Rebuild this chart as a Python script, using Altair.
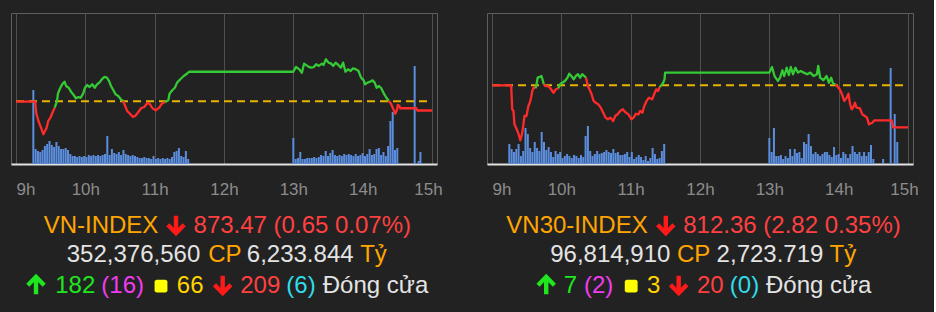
import altair as alt
import pandas as pd

# ---------------- data ----------------
# minutes after 09:00 and index level
VNI_T = [0, 16.6, 17.5, 19.4, 22.2, 23.7, 25.1, 26.5, 27.9, 29.8, 31.5, 33.5, 35.5, 36.3, 37.8, 40.0,
         42.0, 43.4, 45.6, 47.6, 49.9, 51.8, 54.1, 56.0, 58.1, 59.7, 61.7, 63.6, 65.9, 68.2, 70.1, 72.1,
         74.4, 76.6, 78.6, 80.5, 82.2, 84.3, 86.2, 88.5, 90.7, 92.7, 94.1, 96.3, 98.6, 101.2, 103.1,
         105.4, 108.2, 111.0, 113.8, 116.0, 118.1, 120.9, 124.0, 126.2, 129.0, 131.8, 132.9, 135.2,
         137.5, 139.4, 142.2, 145.1, 147.9, 149.8,
         240.0, 242.3, 245.1, 247.4, 249.3, 252.1, 255.0, 257.8, 259.7, 262.0, 264.8, 266.2, 268.2,
         270.4, 272.7, 274.6, 276.6, 278.9, 281.2, 283.1, 285.1, 287.3, 289.6, 291.6, 294.3, 296.4,
         298.6, 300.9, 302.0, 304.2, 306.5, 308.5, 310.4, 312.1, 314.1, 316.1, 318.4, 320.5, 322.6,
         324.5, 326.2, 328.2, 329.6, 330.4, 331.9, 332.4, 346.5, 347.1, 360]
VNI_V = [874.10, 874.10, 873.31, 872.73, 872.14, 871.79, 872.02, 872.25, 872.73, 872.96, 873.31,
         873.67, 874.14, 874.66, 874.97, 875.32, 875.51, 875.20, 875.08, 874.80, 874.57, 874.33,
         874.42, 874.37, 874.66, 875.08, 875.27, 875.13, 875.32, 875.08, 875.32, 875.44, 875.68,
         875.84, 875.79, 875.56, 875.20, 874.90, 874.61, 874.49, 874.26, 874.14, 873.86, 873.43,
         873.24, 873.01, 873.08, 873.31, 873.63, 873.72, 874.02, 873.91, 873.63, 873.48, 873.67,
         873.95, 874.07, 874.19, 874.66, 874.90, 875.08, 875.44, 875.68, 875.91, 876.07, 876.21,
         876.21, 876.55, 876.38, 876.14, 876.78, 876.62, 876.50, 876.54, 876.74, 876.62, 876.78,
         876.69, 877.09, 876.85, 876.78, 876.62, 876.85, 876.69, 876.50, 876.85, 876.21, 876.38,
         876.26, 876.45, 876.38, 876.26, 875.79, 875.60, 875.32, 875.44, 875.51, 875.60, 875.44,
         875.08, 875.20, 875.04, 874.66, 874.37, 874.14, 873.95, 873.63, 873.24, 873.48, 873.86,
         873.79, 873.63, 873.63, 873.47, 873.47]

VN30_T = [0, 16.6, 17.5, 18.6, 19.4, 21.4, 23.1, 24.5, 25.9, 27.0, 28.1, 29.8, 31.5, 32.7, 33.8,
          34.9, 36.3, 37.8, 38.6, 39.5, 41.4, 42.8, 43.9, 44.8, 46.2, 48.4, 50.5, 53.2, 55.2, 57.5,
          58.9, 60.8, 63.1, 65.3, 66.8, 68.7, 70.7, 72.4, 74.4, 76.3, 78.0, 80.0, 81.4, 82.8, 84.3,
          86.2, 87.9, 89.8, 91.9, 94.1, 96.3, 98.3, 100.3, 102.5, 104.8, 106.7, 109.0, 111.0, 113.2,
          115.2, 118.1, 120.6, 122.5, 124.5, 126.8, 128.2, 130.1, 131.8, 133.8, 135.8, 138.6, 140.3,
          142.2, 143.7, 145.1, 146.5, 147.9, 149.3, 149.8,
          240.0, 242.3, 244.5, 247.4, 249.3, 251.3, 252.9, 255.0, 256.9, 258.6, 260.5, 262.6, 264.8,
          267.0, 269.8, 272.7, 275.5, 278.3, 281.2, 282.3, 284.0, 286.7, 289.6, 291.6, 293.5, 295.2,
          297.2, 298.6, 300.9, 302.8, 304.8, 307.0, 308.5, 309.9, 311.3, 312.7, 314.1, 315.5, 318.3,
          320.5, 322.6, 324.5, 326.2, 329.0, 331.0, 345.9, 347.1, 360]
VN30_V = [815.17, 815.17, 813.57, 813.46, 812.56, 812.23, 811.89, 811.49, 811.89, 812.45,
          813.12, 813.12, 813.79, 814.01, 814.35, 814.80, 815.07, 814.98, 815.25, 815.69,
          815.74, 815.80, 815.52, 815.25, 815.13, 815.13, 814.98, 814.68, 814.91, 814.98,
          815.25, 815.35, 815.47, 815.69, 815.96, 815.80, 815.58, 815.80, 815.92, 815.69,
          815.92, 815.80, 815.69, 815.17, 814.91, 814.58, 814.13, 814.01, 813.91, 813.68,
          813.34, 813.01, 812.90, 813.01, 812.78, 813.12, 813.27, 813.46, 813.57, 813.39,
          813.23, 812.90, 813.01, 813.27, 813.23, 813.46, 813.34, 813.79, 814.13, 814.35,
          814.24, 814.58, 814.91, 814.80, 815.07, 815.18, 815.31, 815.58, 816.03,
          816.03, 816.41, 815.80, 815.47, 815.69, 816.19, 815.80, 816.36, 815.87, 816.41,
          815.92, 816.36, 816.03, 816.14, 816.03, 815.92, 816.03, 815.80, 815.92, 816.48,
          815.69, 815.52, 815.80, 815.35, 815.69, 815.29, 815.25, 815.13, 814.91, 814.58,
          814.13, 814.35, 814.62, 813.91, 813.57, 813.72, 814.01, 813.68, 813.64, 813.23,
          813.12, 813.01, 812.56, 812.67, 812.83, 812.83, 812.36, 812.36]

# volume per 2-minute bar (relative units); morning from 09:15, afternoon from 13:00
VNI_VOL_AM = [74, 15, 13, 12, 14, 18, 20, 23, 19, 17, 22, 18, 15, 15, 16, 14, 10, 8, 8, 7,
              8, 7, 8, 7, 9, 8, 9, 8, 9, 8, 9, 10, 28, 9, 15, 11, 10, 12, 9, 14,
              10, 9, 8, 9, 8, 7, 6, 6, 7, 6, 6, 5, 8, 5, 6, 5, 6, 5, 6, 5,
              7, 12, 13, 16, 8, 7, 13, 5]
VNI_VOL_PM = [26, 5, 6, 12, 5, 5, 6, 6, 6, 7, 6, 7, 9, 8, 13, 8, 11, 14, 9, 8,
              9, 8, 10, 9, 10, 9, 8, 10, 8, 9, 11, 8, 10, 15, 9, 10, 15, 16, 9, 12,
              8, 18, 43, 52, 14, 16]
VNI_ATC_T = [345, 348.5, 350]
VNI_ATC_V = [98, 3, 12]

VN30_VOL_AM = [20, 15, 12, 15, 20, 8, 13, 36, 30, 16, 12, 22, 16, 13, 32, 22, 14, 17, 12, 7,
               13, 10, 12, 6, 8, 10, 8, 6, 9, 8, 6, 9, 7, 28, 38, 13, 8, 10, 13, 10,
               11, 12, 14, 12, 11, 15, 11, 12, 9, 9, 10, 12, 7, 12, 5, 7, 9, 7, 4, 8,
               3, 6, 16, 10, 5, 6, 13, 20]
VN30_VOL_PM = [26, 12, 36, 8, 8, 9, 5, 8, 6, 15, 8, 15, 11, 12, 6, 22, 20, 30, 18, 10,
               12, 10, 8, 10, 12, 12, 9, 7, 17, 9, 10, 6, 12, 10, 6, 10, 18, 12, 10, 12,
               8, 12, 8, 12, 19, 5]
VN30_ATC_T = [338.5, 345, 348.5, 350.7]
VN30_ATC_V = [5, 96, 50, 22]

HOURS = [9, 10, 11, 12, 13, 14, 15]

VNI_INFO = dict(name="VN-INDEX", close=873.47, change=0.65, pct=0.07,
                shares="352,376,560", value="6,233.844", up=182, ceil=16, flat=66, down=209, floor=6)
VN30_INFO = dict(name="VN30-INDEX", close=812.36, change=2.82, pct=0.35,
                 shares="96,814,910", value="2,723.719", up=7, ceil=2, flat=3, down=20, floor=0)
STATUS = "Đóng cửa"
UNIT_CP = "CP"
UNIT_TY = "Tỷ"

# ---------------- layout / style ----------------
W, H = 426, 151
FONT = "Liberation Sans"
FS = 24
GREEN, RED = "#35c935", "#ff2b2b"
LAYOUT_VNI = dict(name=100 - 10, arrow1=165, quote=291.3, shares=122.5, cp=213.8, value=289.2, ty=362.5,
                  uparrow=25, up=64.2, ceil=111.7, square=150, flat=179.2, downarrow=211.7,
                  down=249.2, floor=290, status=364.5)
LAYOUT_VN30 = dict(name=90, arrow1=178.8, quote=305, shares=123.3, cp=206.7, value=283, ty=355.8,
                   uparrow=59.2, up=83.3, ceil=111.7, square=144.2, flat=166.7, downarrow=191.7,
                   down=223.3, floor=257.5, status=331.7)
Y1, Y2, Y3 = 219.7, 248.7, 279.7
DOWN_ARROW = "M0,-0.92L0,0.78M-0.82,-0.02L0,0.82L0.82,-0.02"
UP_ARROW = "M0,0.92L0,-0.78M-0.82,0.02L0,-0.82L0.82,0.02"
ROUND_SQ = ("M-0.65,-1H0.65A0.35,0.35,0,0,1,1,-0.65V0.65A0.35,0.35,0,0,1,0.65,1H-0.65"
            "A0.35,0.35,0,0,1,-1,0.65V-0.65A0.35,0.35,0,0,1,-0.65,-1Z")


def runs(ts, vs, ref):
    rows, run, prev = [], 0, None
    for i, (t, v) in enumerate(zip(ts, vs)):
        side = "up" if v >= ref else "down"
        if prev is not None and side != prev:
            run += 1
            rows.append(dict(t=ts[i - 1], v=vs[i - 1], side=side, run=run, o=i - 0.5))
        rows.append(dict(t=t, v=v, side=side, run=run, o=i))
        prev = side
    return pd.DataFrame(rows)


def xenc():
    return alt.X(
        "t:Q",
        scale=alt.Scale(domain=[0, 360], nice=False, zero=False),
        axis=alt.Axis(
            values=[(h - 9) * 60 for h in HOURS],
            labelExpr="(9 + datum.value / 60) + 'h'",
            title=None, ticks=False, tickSize=0, grid=True,
            gridColor="#4f4f4f", gridWidth=1,
            domainColor="#e2e2e2", domainWidth=2,
            labelColor="#8c8c8c", labelFont=FONT, labelFontSize=17,
            labelPadding=17, labelBaseline="top",
            labelAlign={"condition": {"test": "datum.value == 0", "value": "left"}, "value": "center"},
            labelOffset={"condition": {"test": "datum.value == 360", "value": -4}, "value": 0},
        ),
    )


def txt(s, color, x, y, align="center"):
    return alt.Chart(pd.DataFrame({"s": [s]})).mark_text(
        color=color, font=FONT, fontSize=FS, align=align, baseline="alphabetic"
    ).encode(x=alt.value(x), y=alt.value(y), text="s:N")


def sym(path, color, x, y, size, filled=False):
    kw = dict(shape=path, size=size, opacity=1)
    if filled:
        kw.update(filled=True, fill=color, strokeWidth=0)
    else:
        kw.update(filled=False, stroke=color, strokeWidth=4.4, strokeJoin="miter", strokeCap="butt")
    return alt.Chart(pd.DataFrame({"a": [0]})).mark_point(**kw).encode(x=alt.value(x), y=alt.value(y))


def panel(info, pt, pv, vam, vpm, atc_t, atc_v, ydom, L):
    ref = round(info["close"] + info["change"], 2)
    line_df = runs(pt, pv, ref)
    vt = [15 + 2 * i for i in range(len(vam))] + [240 + 2 * j for j in range(len(vpm))] + atc_t
    vol_df = pd.DataFrame({"t": vt, "vol": vam + vpm + atc_v})

    bars = alt.Chart(vol_df).mark_bar(size=2, color="#5b8ede").encode(
        x=xenc(), y=alt.Y("vol:Q", scale=alt.Scale(domain=[0, H]), axis=None))
    yprice = alt.Scale(domain=ydom, zero=False, nice=False)
    refline = alt.Chart(pd.DataFrame({"t": [0, 360], "r": [ref, ref]})).mark_line(
        color="#e8b400", strokeWidth=2, strokeDash=[8, 5]).encode(
        x=xenc(), y=alt.Y("r:Q", scale=yprice, axis=None))
    line = alt.Chart(line_df).mark_line(strokeWidth=2.3, strokeJoin="round").encode(
        x=xenc(), y=alt.Y("v:Q", scale=yprice, axis=None),
        color=alt.Color("side:N", scale=alt.Scale(domain=["up", "down"], range=[GREEN, RED]), legend=None),
        detail="run:N", order="o:Q")
    price = alt.layer(refline, line)

    quote = f"{info['close']:.2f} ({info['change']:.2f} {info['pct']:.2f}%)"
    texts = [
        txt(info["name"], "#ffa500", L["name"], Y1),
        sym(DOWN_ARROW, "#ff1a1a", L["arrow1"], Y1 - 7.7, 400),
        txt(quote, "#ff4040", L["quote"], Y1),
        txt(info["shares"], "#e4e4e4", L["shares"], Y2),
        txt(UNIT_CP, "#ffa500", L["cp"], Y2),
        txt(info["value"], "#e4e4e4", L["value"], Y2),
        txt(UNIT_TY, "#ffa500", L["ty"], Y2),
        sym(UP_ARROW, "#1fe61f", L["uparrow"], Y3 - 7.7, 400),
        txt(str(info["up"]), "#1fe61f", L["up"], Y3),
        txt(f"({info['ceil']})", "#f03cf0", L["ceil"], Y3),
        sym(ROUND_SQ, "#ffff00", L["square"], Y3 - 6.6, 165, filled=True),
        txt(str(info["flat"]), "#ffd400", L["flat"], Y3),
        sym(DOWN_ARROW, "#ff1a1a", L["downarrow"], Y3 - 7.7, 400),
        txt(str(info["down"]), "#ff4040", L["down"], Y3),
        txt(f"({info['floor']})", "#30dce8", L["floor"], Y3),
        txt(STATUS, "#e4e4e4", L["status"], Y3),
    ]
    return alt.layer(bars, price, *texts).resolve_scale(y="independent").properties(width=W, height=H)


left = panel(VNI_INFO, VNI_T, VNI_V, VNI_VOL_AM, VNI_VOL_PM, VNI_ATC_T, VNI_ATC_V,
             [869.69, 880.36], LAYOUT_VNI)
right = panel(VN30_INFO, VN30_T, VN30_V, VN30_VOL_AM, VN30_VOL_PM, VN30_ATC_T, VN30_ATC_V,
              [809.90, 820.03], LAYOUT_VN30)

chart = alt.hconcat(left, right, spacing=50, bounds="flush").properties(
    background="#222222",
    padding={"left": 10, "top": 12, "right": 15, "bottom": 14},
).configure_view(stroke="#5e5e5e", strokeWidth=1, fill=None)

chart.save("out.html", embed_options={"renderer": "svg", "actions": False})
